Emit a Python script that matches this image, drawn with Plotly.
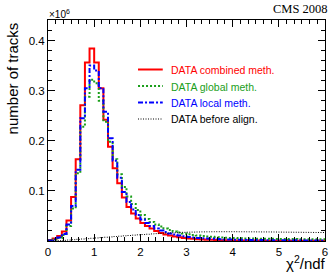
import numpy as np
import plotly.graph_objects as go

# bin low edges 0.0 ... 5.9 (width 0.1)
bin_width = 0.1
n_bins = 60

# values in units of 10^6 tracks
combined = [0.002, 0.005, 0.010, 0.019, 0.041, 0.088, 0.163, 0.271, 0.356, 0.384,
            0.356, 0.305, 0.242, 0.188, 0.145, 0.115, 0.087, 0.068, 0.055, 0.045,
            0.036, 0.030, 0.025, 0.020, 0.016, 0.013, 0.011, 0.009, 0.0075, 0.0062,
            0.0052, 0.0044, 0.0037, 0.0031, 0.0027, 0.0023, 0.0020, 0.0017, 0.0015, 0.0013,
            0.0012, 0.0011, 0.0010, 0.0009, 0.0009, 0.0008, 0.0008, 0.0007, 0.0007, 0.0006,
            0.0006, 0.0006, 0.0005, 0.0005, 0.0005, 0.0004, 0.0004, 0.0004, 0.0004, 0.0003]

global_m = [0.001, 0.003, 0.006, 0.012, 0.030, 0.065, 0.135, 0.228, 0.288, 0.322,
            0.315, 0.280, 0.238, 0.198, 0.163, 0.133, 0.108, 0.089, 0.074, 0.062,
            0.052, 0.044, 0.038, 0.033, 0.029, 0.025, 0.022, 0.019, 0.017, 0.015,
            0.0135, 0.012, 0.011, 0.010, 0.009, 0.0083, 0.0077, 0.0071, 0.0066, 0.0062,
            0.0058, 0.0055, 0.0052, 0.0050, 0.0048, 0.0046, 0.0045, 0.0044, 0.0043, 0.0042,
            0.0041, 0.0040, 0.0039, 0.0038, 0.0037, 0.0036, 0.0036, 0.0035, 0.0035, 0.0034]

local_m = [0.001, 0.003, 0.007, 0.014, 0.033, 0.070, 0.142, 0.245, 0.305, 0.350,
           0.340, 0.305, 0.258, 0.205, 0.160, 0.126, 0.098, 0.078, 0.063, 0.052,
           0.043, 0.036, 0.030, 0.025, 0.021, 0.018, 0.015, 0.013, 0.011, 0.0095,
           0.0082, 0.0071, 0.0062, 0.0054, 0.0048, 0.0043, 0.0038, 0.0034, 0.0031, 0.0028,
           0.0026, 0.0024, 0.0022, 0.0021, 0.0020, 0.0019, 0.0018, 0.0017, 0.0016, 0.0015,
           0.0015, 0.0014, 0.0014, 0.0013, 0.0013, 0.0012, 0.0012, 0.0011, 0.0011, 0.0010]

before_align = [0.0001, 0.0004, 0.0008, 0.0013, 0.0019, 0.0026, 0.0033, 0.0040, 0.0047, 0.0054,
                0.0061, 0.0068, 0.0075, 0.0082, 0.0089, 0.0096, 0.0103, 0.0110, 0.0117, 0.0123,
                0.0129, 0.0135, 0.0141, 0.0147, 0.0152, 0.0157, 0.0162, 0.0166, 0.0170, 0.0173,
                0.0176, 0.0178, 0.0180, 0.0182, 0.0183, 0.0184, 0.0185, 0.0185, 0.0185, 0.0185,
                0.0185, 0.0184, 0.0184, 0.0183, 0.0183, 0.0182, 0.0181, 0.0181, 0.0180, 0.0179,
                0.0178, 0.0177, 0.0176, 0.0175, 0.0174, 0.0173, 0.0172, 0.0171, 0.0170, 0.0169]

series_names = ["DATA combined meth.", "DATA global meth.", "DATA local meth.", "DATA before align."]
series_colors = ["#ff0000", "#1a9e1a", "#0000ff", "#000000"]
series_dash = ["solid", "2px,2px", "5px,2px,2px,2px", "1px,1.5px"]
series_width = [2, 2, 2, 1]
series_vals = [combined, global_m, local_m, before_align]

x_tick_vals = [0, 1, 2, 3, 4, 5, 6]
x_tick_text = ["0", "1", "2", "3", "4", "5", "6"]
y_tick_vals = [0.1, 0.2, 0.3, 0.4]
y_tick_text = ["0.1", "0.2", "0.3", "0.4"]

edges = np.round(np.arange(n_bins + 1) * bin_width, 3)

fig = go.Figure()
for name, col, dash, w, vals in zip(series_names, series_colors, series_dash, series_width, series_vals):
    yv = list(vals) + [vals[-1]]
    fig.add_trace(go.Scatter(x=edges, y=yv, mode="lines", line_shape="hv",
                             line=dict(color=col, dash=dash, width=w),
                             name=name, showlegend=False, hoverinfo="skip"))

W, H = 332, 274
L, R, T, B = 48, 4, 20, 33
pw, ph = W - L - R, H - T - B

def px(xp):
    return (xp - L) / pw

def py(yp):
    return 1 - (yp - T) / ph

font_main = "Liberation Sans, Arial, sans-serif"

# manual legend
leg_y = [69.5, 86.0, 102.5, 119.0]
for name, col, dash, w, yy in zip(series_names, series_colors, series_dash, series_width, leg_y):
    fig.add_shape(type="line", xref="paper", yref="paper",
                  x0=px(139), x1=px(164), y0=py(yy), y1=py(yy),
                  line=dict(color=col, dash=dash, width=w))
    fig.add_annotation(xref="paper", yref="paper", x=px(170), y=py(yy + 0.5),
                       xanchor="left", yanchor="middle", showarrow=False,
                       text=name, font=dict(family=font_main, size=10.5, color=col))

fig.add_annotation(xref="paper", yref="paper", x=px(47), y=1, xanchor="left", yanchor="bottom",
                   showarrow=False, text="×10<sup>6</sup>", yshift=-2,
                   font=dict(family=font_main, size=10, color="black"))
fig.add_annotation(xref="paper", yref="paper", x=px(333), y=py(0), xanchor="right", yanchor="top",
                   showarrow=False, text="CMS 2008",
                   font=dict(family="Liberation Serif, Times New Roman, serif", size=12.5, color="black"))
fig.add_annotation(xref="paper", yref="paper", x=px(12), y=py(20), xanchor="center", yanchor="top",
                   showarrow=False, text="number of tracks", textangle=-90,
                   font=dict(family=font_main, size=15, color="black"))
fig.add_annotation(xref="paper", yref="paper", x=px(331), y=py(262), xanchor="right", yanchor="middle",
                   showarrow=False, text="χ<sup>2</sup>/ndf",
                   font=dict(family=font_main, size=15, color="black"))

fig.update_layout(
    width=W, height=H,
    margin=dict(l=L, r=R, t=T, b=B, pad=0),
    plot_bgcolor="white", paper_bgcolor="white",
    showlegend=False,
    xaxis=dict(range=[0, 6], tickvals=x_tick_vals, ticktext=x_tick_text,
               ticks="inside", ticklen=7, tickwidth=1, tickcolor="black",
               showline=True, linecolor="black", linewidth=1, mirror="allticks",
               showgrid=False, zeroline=False,
               tickfont=dict(family=font_main, size=11.5, color="black"),
               minor=dict(dtick=1/6, tick0=0, ticks="inside", ticklen=4, tickcolor="black", showgrid=False)),
    yaxis=dict(range=[0, 0.441], tickvals=y_tick_vals, ticktext=y_tick_text,
               ticks="inside", ticklen=7, tickwidth=1, tickcolor="black",
               showline=True, linecolor="black", linewidth=1, mirror="allticks",
               showgrid=False, zeroline=False,
               tickfont=dict(family=font_main, size=11.5, color="black"),
               minor=dict(dtick=0.02, tick0=0, ticks="inside", ticklen=4, tickcolor="black", showgrid=False)),
)

fig.write_html("out.html", config={"displayModeBar": False, "staticPlot": True},
               post_script="document.body.style.margin='0';document.body.style.overflow='hidden';")
